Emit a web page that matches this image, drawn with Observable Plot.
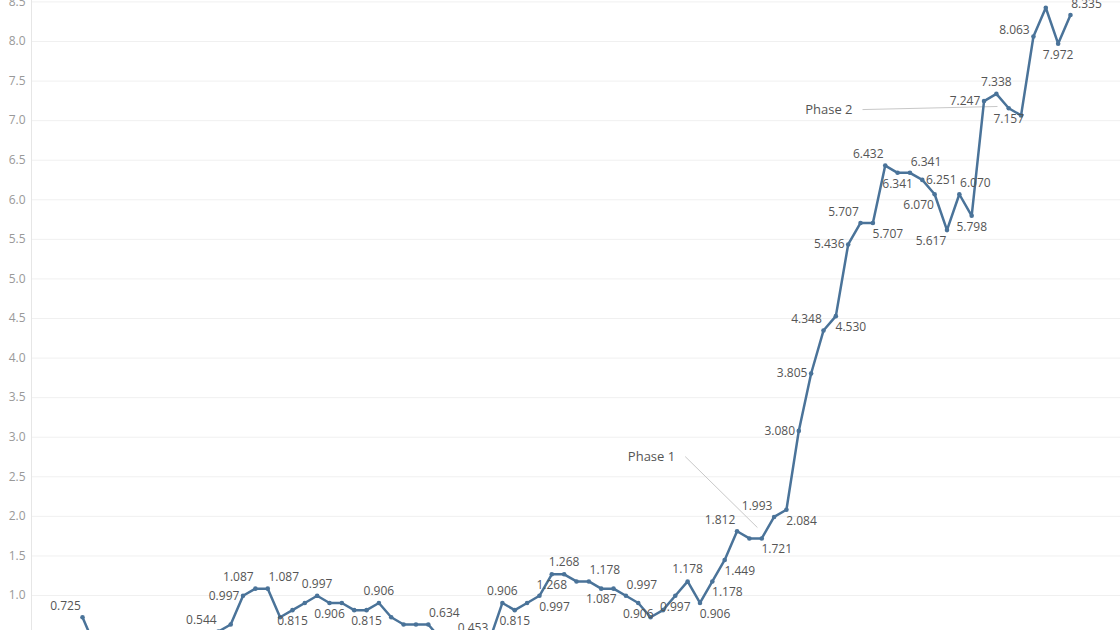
<!DOCTYPE html>
<html>
<head>
<meta charset="utf-8">
<script src="https://cdn.jsdelivr.net/npm/d3@7"></script>
<script src="https://cdn.jsdelivr.net/npm/@observablehq/plot@0.6"></script>
<style>
  html, body { margin: 0; padding: 0; background: #fff; overflow: hidden; }
  #chart svg { display: block; }
</style>
</head>
<body>
<div id="chart"></div>
<script>
// Series values, one per period (period index 0..80)
const values = [
  0.725, 0.362, 0.272, 0.272, 0.181, 0.272, 0.362, 0.272, 0.362, 0.453,
  0.453, 0.544, 0.634, 0.997, 1.087, 1.087, 0.725, 0.815, 0.906, 0.997,
  0.906, 0.906, 0.815, 0.815, 0.906, 0.725, 0.634, 0.634, 0.634, 0.453,
  0.362, 0.362, 0.453, 0.453, 0.906, 0.815, 0.906, 0.997, 1.268, 1.268,
  1.178, 1.178, 1.087, 1.087, 0.997, 0.906, 0.725, 0.815, 0.997, 1.178,
  0.906, 1.178, 1.449, 1.812, 1.721, 1.721, 1.993, 2.084, 3.080, 3.805,
  4.348, 4.530, 5.436, 5.707, 5.707, 6.432, 6.341, 6.341, 6.251, 6.070,
  5.617, 6.070, 5.798, 7.247, 7.338, 7.157, 7.066, 8.063, 8.426, 7.972,
  8.335
];
const periods = values.map((_, i) => i);

// Which points carry a value label, and on which side of the point it sits
const labelIndex = [0, 8, 11, 13, 14, 15, 17, 19, 20, 23, 24, 28, 33, 34, 35, 37, 38, 39, 41, 42,
  44, 45, 48, 49, 50, 51, 52, 53, 55, 56, 57, 58, 59, 60, 61, 62, 63, 64, 65, 66,
  67, 68, 69, 70, 71, 72, 73, 74, 75, 77, 78, 79, 80];
const labelSide = ["nw", "nw", "nw", "w", "nw", "ne", "s", "n", "s", "s", "n", "ne", "nw", "n", "s", "se", "s", "n", "ne", "s",
  "ne", "s", "s", "n", "se", "se", "se", "nw", "se", "nw", "se", "w", "w", "nw", "se", "w", "nw", "se", "nw", "s",
  "ne", "e", "sw", "sw", "ne", "s", "w", "n", "s", "wn", "n", "s", "ne"];

// Y axis tick labels
const yTicks = [1.0, 1.5, 2.0, 2.5, 3.0, 3.5, 4.0, 4.5, 5.0, 5.5, 6.0, 6.5, 7.0, 7.5, 8.0, 8.5];

// Annotations: text and the point (period, value) their leader lines join
const annoText = ["Phase 1", "Phase 2"];
const annoFrom = [[48.8, 2.756], [63.16, 7.14]];
const annoTo = [[54.65, 1.859], [74.09, 7.179]];

const data = periods.map((p, i) => ({period: p, value: values[i]}));
const labels = labelIndex.map((idx, k) => ({period: idx, value: values[idx], side: labelSide[k]}));
const annos = annoText.map((t, k) => ({text: t, x1: annoFrom[k][0], y1: annoFrom[k][1], x2: annoTo[k][0], y2: annoTo[k][1]}));

const offsets = {
  n: [0, -12], s: [0, 11], w: [-19, 0], e: [19, 0],
  nw: [-17, -11], ne: [16, -11], sw: [-16, 11], se: [15, 11], wn: [-19, -6]
};

const lineColor = "#4a7399";
const font = "'Open Sans', 'DejaVu Sans', sans-serif";

const labelMarks = Object.keys(offsets).map(side =>
  Plot.text(labels.filter(d => d.side === side), {
    x: "period", y: "value",
    text: d => d.value.toFixed(3),
    dx: offsets[side][0], dy: offsets[side][1],
    fill: "#555", fontSize: 12, textAnchor: "middle"
  })
);

const chart = Plot.plot({
  width: 1120,
  height: 630,
  marginLeft: 31,
  marginRight: 0,
  marginTop: 0,
  marginBottom: 0,
  style: {fontFamily: font, background: "#fff", overflow: "hidden"},
  x: {type: "linear", domain: [-4.13, 84.05], axis: null},
  y: {domain: [0.558, 8.518], axis: null},
  marks: [
    Plot.ruleY(yTicks, {stroke: "#f0f0f0", strokeWidth: 1}),
    Plot.ruleX([-4.13], {stroke: "#e6e6e6", strokeWidth: 1}),
    Plot.axisY(yTicks, {tickSize: 0, tickPadding: 6, tickFormat: d => d.toFixed(1), fill: "#999", fontSize: 12, label: null}),
    Plot.link(annos, {x1: "x1", y1: "y1", x2: "x2", y2: "y2", stroke: "#c8c8c8", strokeWidth: 1}),
    Plot.text(annos, {x: "x1", y: "y1", text: "text", textAnchor: "end", dx: -10, fill: "#555", fontSize: 13}),
    Plot.line(data, {x: "period", y: "value", stroke: lineColor, strokeWidth: 2.5, clip: true}),
    Plot.dot(data, {x: "period", y: "value", r: 2.3, fill: lineColor, stroke: "none", clip: true}),
    ...labelMarks
  ]
});
document.getElementById("chart").appendChild(chart);
</script>
</body>
</html>
